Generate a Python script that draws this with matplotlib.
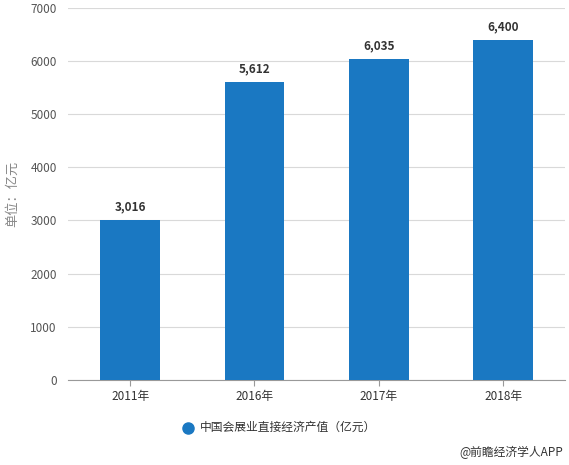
import matplotlib.pyplot as plt

plt.rcParams['font.family'] = ['Noto Sans CJK SC', 'DejaVu Sans']

years = ['2011年', '2016年', '2017年', '2018年']
values = [3016, 5612, 6035, 6400]
series_name = '中国会展业直接经济产值（亿元）'

fig = plt.figure(figsize=(5.69, 4.65), dpi=100)
ax = fig.add_axes([0.1195, 0.183, 0.874, 0.8])

x = range(len(years))
bars = ax.bar(x, values, width=0.48, color='#1a78c2', zorder=3)
for b, v in zip(bars, values):
    ax.text(b.get_x() + b.get_width() / 2, v + 120, f'{v:,}', ha='center', va='bottom',
            fontsize=8.5, fontweight='bold', color='#333333')

ax.set_xlim(-0.5, len(years) - 0.5)
ax.set_ylim(0, 7000)
ax.set_yticks(range(0, 7001, 1000))
ax.set_xticks(list(x))
ax.set_xticklabels(years)
ax.grid(axis='y', color='#d9d9d9', linewidth=0.8, zorder=0)
for s in ['top', 'right', 'left']:
    ax.spines[s].set_visible(False)
ax.spines['bottom'].set_color('#999999')
ax.tick_params(axis='y', length=0, labelsize=8.5, labelcolor='#555555', pad=8)
ax.tick_params(axis='x', length=4, color='#999999', labelsize=8.5, labelcolor='#333333')
ax.set_ylabel('单位：亿元', fontsize=9.5, color='#888888', labelpad=8)

# legend drawn by hand, centred under the plot
fig.lines.append(plt.Line2D([0.330], [0.080], marker='o', markersize=8, color='#1a78c2',
                            transform=fig.transFigure, figure=fig))
fig.text(0.352, 0.080, series_name, fontsize=8.5, color='#333333', ha='left', va='center')
fig.text(0.99, 0.027, '@前瞻经济学人APP', fontsize=8.5, color='#333333', ha='right', va='center')

fig.savefig('out.png', dpi=100)
